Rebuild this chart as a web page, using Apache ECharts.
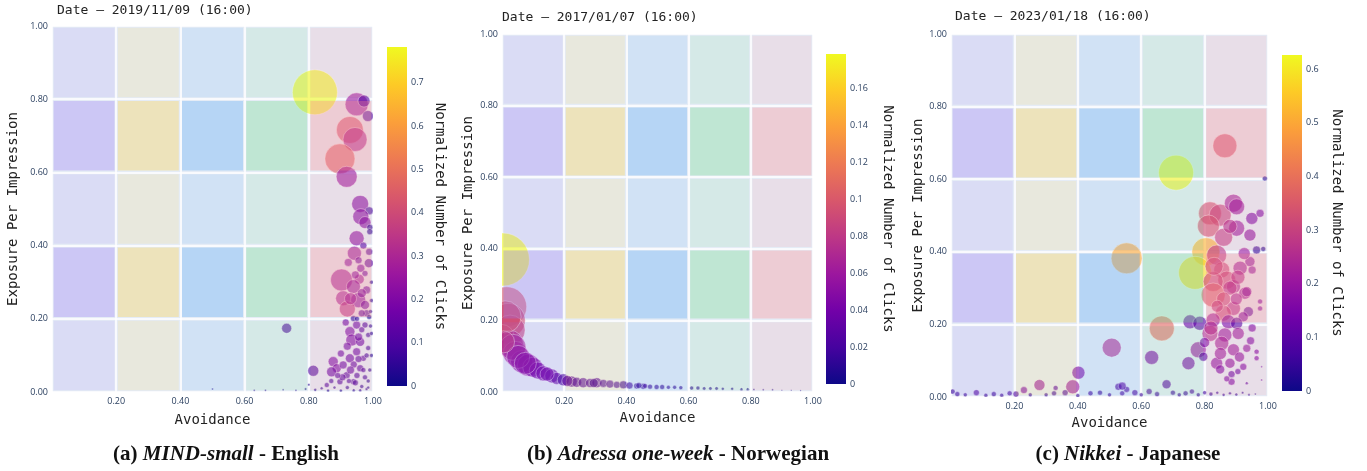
<!DOCTYPE html>
<html>
<head>
<meta charset="utf-8">
<script src="https://cdn.jsdelivr.net/npm/echarts@6.0.0/dist/echarts.min.js"></script>
<style>
html,body{margin:0;padding:0;background:#fff;}
#chart{width:1367px;height:471px;}
</style>
</head>
<body>
<div id="chart"></div>
<script>
// ---------------- DATA ----------------
const axisTicks = [0, 0.2, 0.4, 0.6, 0.8, 1.0];
const xAxisTitle = 'Avoidance';
const yAxisTitle = 'Exposure Per Impression';
const colorbarTitle = 'Normalized Number of Clicks';

// Panel (a) MIND-small
const aTitle = 'Date – 2019/11/09 (16:00)';
const aCaption = ['(a) ', 'MIND-small', ' - English'];
const aX = [0.819,0.949,0.972,0.984,0.928,0.944,0.897,0.918,0.960,0.988,0.962,0.975,0.990,0.949,0.990,0.942,0.988,0.923,0.962,0.987,0.975,0.902,0.957,0.939,0.980,0.907,0.954,0.920,0.975,0.980,0.988,0.939,0.731,0.814,0.928,0.934,0.960,0.876,0.887,0.871,0.907,0.928,0.949,0.918,0.897,0.856,0.939,0.960,0.970,0.985,0.975,0.949,0.965,0.945,0.930,0.970,0.955,0.995,0.995,0.995,0.995,0.950,0.975,0.990,0.965,0.920,0.880,0.840,0.985,0.940,0.900,0.920,0.965,0.915,0.500,0.630,0.665,0.720,0.760,0.790,0.800,0.820,0.860,0.900,0.940,0.980,
  0.905,0.930,0.955,0.945,0.925,0.970,0.980,0.985,0.870,0.890,0.955,0.965,0.950,0.992,0.992,0.960,0.985];
const aY = [0.819,0.786,0.795,0.754,0.716,0.690,0.637,0.588,0.514,0.495,0.479,0.463,0.450,0.420,0.438,0.379,0.383,0.354,0.338,0.352,0.324,0.306,0.308,0.288,0.279,0.256,0.251,0.227,0.238,0.215,0.205,0.201,0.174,0.058,0.165,0.142,0.137,0.083,0.065,0.055,0.074,0.092,0.110,0.046,0.028,0.019,0.028,0.065,0.092,0.156,0.183,0.183,0.270,0.320,0.255,0.400,0.360,0.300,0.250,0.160,0.100,0.045,0.040,0.060,0.015,0.012,0.012,0.010,0.120,0.075,0.105,0.125,0.170,0.190,0.008,0.005,0.005,0.006,0.005,0.008,0.020,0.006,0.004,0.004,0.005,0.008,
  0.040,0.060,0.090,0.025,0.030,0.060,0.100,0.030,0.030,0.045,0.150,0.215,0.200,0.180,0.220,0.005,0.012];
const aClicks = [0.78,0.25,0.12,0.10,0.42,0.30,0.45,0.25,0.20,0.08,0.20,0.20,0.05,0.22,0.05,0.22,0.10,0.20,0.18,0.12,0.15,0.27,0.25,0.22,0.15,0.27,0.20,0.32,0.15,0.10,0.03,0.05,0.10,0.10,0.18,0.18,0.15,0.18,0.18,0.15,0.15,0.15,0.15,0.12,0.10,0.10,0.10,0.12,0.12,0.08,0.10,0.15,0.18,0.20,0.25,0.12,0.15,0.05,0.05,0.05,0.04,0.10,0.08,0.05,0.06,0.06,0.06,0.05,0.08,0.14,0.15,0.16,0.12,0.15,0.02,0.02,0.02,0.02,0.02,0.02,0.03,0.03,0.03,0.03,0.04,0.05,
  0.12,0.14,0.12,0.10,0.10,0.10,0.08,0.05,0.08,0.12,0.15,0.12,0.05,0.05,0.05,0.05,0.04];
const aSize = [45,23,12,11,27,24,30,21,17,8,16,12,6,15,6,14,7,8,8,9,6,22,10,14,8,15,15,16,9,7,5,6,10,11,10,12,9,10,9,10,8,9,8,7,6,5,6,7,6,5,6,8,9,8,12,7,7,4,4,4,4,6,5,4,4,4,3,3,5,7,7,8,6,7,2,2,2,2,2,2.5,2.5,3,3,3,3,3,
  7,8,7,6,5,5,5,4,5,6,8,7,5,4,4,3,3];
const aClicksMax = 0.7825;
const aColorbarStep = 0.1;

// Panel (b) Adressa one-week
const bTitle = 'Date – 2017/01/07 (16:00)';
const bCaption = ['(b) ', 'Adressa one-week', ' - Norwegian'];
const bX = [0.003,0.015,0.020,0.026,0.000,0.026,0.042,0.063,0.085,0.099,0.115,0.133,0.160,0.176,0.197,0.224,0.240,0.261,0.283,0.305,0.326,0.347,0.369,0.390,0.410,0.433,0.454,0.476,0.497,0.515,0.535,0.555,0.575,0.610,0.630,0.650,0.670,0.690,0.710,0.740,0.770,0.790,0.810,0.840,0.870,0.900,0.930,0.960,0.010,0.035,0.052,0.075,0.145,0.210,0.295,0.440,0.460,0.005];
const bY = [0.370,0.238,0.200,0.173,0.155,0.136,0.108,0.085,0.075,0.069,0.060,0.052,0.045,0.038,0.034,0.029,0.027,0.026,0.025,0.026,0.024,0.022,0.020,0.020,0.018,0.017,0.016,0.015,0.014,0.014,0.013,0.013,0.012,0.011,0.011,0.010,0.010,0.010,0.009,0.009,0.008,0.008,0.007,0.006,0.006,0.005,0.005,0.004,0.210,0.125,0.098,0.080,0.050,0.031,0.025,0.018,0.017,0.140];
const bClicks = [0.178,0.100,0.090,0.085,0.090,0.070,0.060,0.050,0.050,0.045,0.040,0.040,0.035,0.030,0.020,0.025,0.025,0.025,0.025,0.025,0.022,0.022,0.020,0.015,0.018,0.016,0.015,0.014,0.013,0.012,0.012,0.011,0.011,0.010,0.010,0.009,0.009,0.008,0.008,0.007,0.006,0.004,0.004,0.004,0.003,0.003,0.002,0.002,0.095,0.065,0.055,0.050,0.040,0.030,0.022,0.015,0.020,0.080];
const bSize = [53,40,34,30,24,26,24,22,22,20,17,15,14,12,12,11,10,10,9,10,8,8,7,8,7,6,6,5,5,5,4,4,4,4,4,3.5,3.5,3.5,3,3,3,3,2,2,2,1.5,1.5,1.5,32,26,23,22,14,11,9,6,5,22];
const bClicksMax = 0.1784;
const bColorbarStep = 0.02;

// Panel (c) Nikkei
const cTitle = 'Date – 2023/01/18 (16:00)';
const cCaption = ['(c) ', 'Nikkei', ' - Japanese'];
const cX = [0.864,0.710,0.990,0.817,0.849,0.891,0.901,0.812,0.949,0.975,0.901,0.943,0.554,0.804,0.770,0.838,0.964,0.985,0.943,0.912,0.854,0.870,0.827,0.891,0.927,0.827,0.880,0.933,0.975,0.975,0.938,0.922,0.891,0.859,0.754,0.785,0.827,0.875,0.901,0.665,0.817,0.864,0.906,0.507,0.780,0.854,0.891,0.933,0.964,0.633,0.749,0.796,0.838,0.880,0.922,0.964,0.849,0.885,0.885,0.980,0.980,0.933,0.402,0.384,0.279,0.230,0.680,0.528,0.554,0.860,0.880,0.830,0.905,0.925,0.950,0.860,0.840,0.900,0.820,0.850,0.910,0.800,0.950,0.945,0.870,0.905,0.005,0.020,0.045,0.080,0.110,0.135,0.160,0.185,0.205,0.250,0.300,0.325,0.360,0.400,0.440,0.470,0.500,0.540,0.580,0.600,0.625,0.650,0.700,0.720,0.740,0.760,0.780,0.800,0.820,0.840,0.860,0.880,0.900,0.920,0.940,0.960,0.330,0.540];
const cY = [0.692,0.618,0.602,0.506,0.501,0.534,0.524,0.471,0.492,0.506,0.465,0.446,0.382,0.400,0.342,0.391,0.405,0.408,0.373,0.355,0.350,0.322,0.318,0.304,0.286,0.281,0.300,0.290,0.263,0.244,0.235,0.221,0.244,0.231,0.207,0.203,0.212,0.207,0.203,0.189,0.175,0.171,0.175,0.136,0.130,0.148,0.130,0.134,0.125,0.109,0.093,0.111,0.093,0.093,0.083,0.107,0.076,0.063,0.042,0.083,0.047,0.038,0.067,0.028,0.033,0.019,0.035,0.028,0.021,0.440,0.470,0.360,0.330,0.395,0.350,0.270,0.250,0.270,0.190,0.120,0.110,0.150,0.190,0.155,0.050,0.070,0.015,0.008,0.006,0.012,0.005,0.008,0.005,0.010,0.008,0.006,0.006,0.010,0.012,0.004,0.010,0.012,0.006,0.010,0.012,0.006,0.015,0.008,0.012,0.006,0.010,0.015,0.006,0.012,0.008,0.012,0.006,0.010,0.007,0.012,0.006,0.008,0.025,0.030];
const cClicks = [0.33,0.62,0.03,0.33,0.30,0.22,0.20,0.33,0.15,0.15,0.20,0.18,0.50,0.52,0.58,0.27,0.05,0.03,0.18,0.20,0.30,0.30,0.30,0.22,0.20,0.35,0.25,0.18,0.15,0.15,0.10,0.15,0.25,0.30,0.12,0.10,0.20,0.15,0.10,0.38,0.25,0.20,0.20,0.25,0.20,0.22,0.20,0.18,0.15,0.15,0.15,0.10,0.18,0.18,0.15,0.15,0.15,0.12,0.15,0.10,0.10,0.10,0.15,0.20,0.20,0.15,0.10,0.08,0.08,0.28,0.25,0.30,0.25,0.20,0.18,0.30,0.28,0.22,0.25,0.20,0.18,0.15,0.15,0.15,0.15,0.12,0.05,0.05,0.05,0.08,0.05,0.05,0.05,0.06,0.08,0.05,0.05,0.06,0.08,0.04,0.06,0.05,0.05,0.07,0.08,0.05,0.08,0.06,0.06,0.05,0.06,0.08,0.05,0.06,0.05,0.05,0.05,0.05,0.04,0.04,0.04,0.03,0.10,0.10];
const cSize = [24,35,5,23,22,18,16,22,12,8,16,12,31,28,33,20,8,5,10,14,16,18,20,14,12,24,14,10,5,5,10,10,14,16,14,14,14,14,12,25,16,14,12,19,16,14,12,8,5,14,13,9,12,10,7,5,9,7,7,2,2,3,13,14,11,7,9,7,6,18,14,18,14,12,8,14,12,12,14,12,10,10,8,8,6,6,5,5,4,6,4,5,4,5,6,4,4,5,6,4,5,5,4,5,6,4,6,5,5,4,5,5,4,4,4,3,3,3,3,2.5,2.5,2,5,8];
const cClicksMax = 0.626;
const cColorbarStep = 0.1;

// ---------------- STYLE / LAYOUT ----------------
const plasma = ['#0d0887','#46039f','#7201a8','#9c179e','#bd3786','#d8576b','#ed7953','#fb9f3a','#fdca26','#f0f921'];
const cellRGB = ['149,116,243','255,206,56','76,163,243','106,216,133','255,133,136'];
const cellAlphaLight = 0.13, cellAlphaDark = 0.31, cellInset = 0.005;
const bubbleOpacity = 0.6;
const tickColor = '#2a3f5f';
const textColor = '#222';
const mono = '"DejaVu Sans Mono", monospace';
const sans = '"Open Sans", sans-serif';
const serif = '"Liberation Serif", serif';

const layouts = [
  {grid:{left:52, top:26, width:321, height:366}, cb:{left:387, top:47, width:20, height:339},
   titlePos:[57,11], captionPos:[226,455], yGap:32, xGap:21, cbGap:26},
  {grid:{left:502, top:34, width:311, height:358}, cb:{left:826, top:54, width:20, height:330},
   titlePos:[502,18], captionPos:[678,455], yGap:27, xGap:18, cbGap:35},
  {grid:{left:951, top:34, width:317, height:363}, cb:{left:1282, top:55, width:20, height:336},
   titlePos:[955,17], captionPos:[1128,455], yGap:26, xGap:14, cbGap:28}
];

const panels = [
  {x:aX, y:aY, c:aClicks, s:aSize, max:aClicksMax, step:aColorbarStep, title:aTitle, caption:aCaption},
  {x:bX, y:bY, c:bClicks, s:bSize, max:bClicksMax, step:bColorbarStep, title:bTitle, caption:bCaption},
  {x:cX, y:cY, c:cClicks, s:cSize, max:cClicksMax, step:cColorbarStep, title:cTitle, caption:cCaption}
];

// cells built from the tick edges
const cellData = [];
for (let i = 0; i < axisTicks.length - 1; i++) {
  for (let j = 0; j < axisTicks.length - 1; j++) {
    cellData.push([axisTicks[i], axisTicks[i+1], axisTicks[j], axisTicks[j+1], i, j]);
  }
}

function fmtCb(v){ return String(parseFloat(v.toFixed(3))); }

const grid = [], xAxis = [], yAxis = [], series = [], visualMap = [], graphic = [];
panels.forEach((p, k) => {
  const L = layouts[k];
  grid.push(Object.assign({show:true, backgroundColor:'#E5ECF6', borderWidth:0, containLabel:false}, L.grid));
  xAxis.push({
    type:'value', gridIndex:k, min:0, max:1, interval:0.2,
    axisLine:{show:false}, axisTick:{show:false},
    splitLine:{show:true, lineStyle:{color:'#ffffff', width:1.5}},
    axisLabel:{showMinLabel:false, color:tickColor, fontFamily:sans, fontSize:9, margin:5, formatter:v=>v.toFixed(2)},
    name:xAxisTitle, nameLocation:'middle', nameGap:L.xGap,
    nameTextStyle:{fontFamily:mono, fontSize:14, color:textColor}
  });
  yAxis.push({
    type:'value', gridIndex:k, min:0, max:1, interval:0.2,
    axisLine:{show:false}, axisTick:{show:false},
    splitLine:{show:true, lineStyle:{color:'#ffffff', width:1.5}},
    axisLabel:{color:tickColor, fontFamily:sans, fontSize:9, margin:4, formatter:v=>v.toFixed(2)},
    name:yAxisTitle, nameLocation:'middle', nameGap:L.yGap,
    nameTextStyle:{fontFamily:mono, fontSize:14, color:textColor}
  });
  // bubbles (custom series so that they are clipped at the plot area like the original)
  series.push({
    type:'custom', xAxisIndex:k, yAxisIndex:k, z:2, clip:true, silent:true,
    encode:{x:0, y:1},
    data:p.x.map((v,i)=>[v, p.y[i], p.c[i], p.s[i]]),
    renderItem:(params, api) => {
      const pt = api.coord([api.value(0), api.value(1)]);
      return {type:'circle', shape:{cx:pt[0], cy:pt[1], r:api.value(3)/2},
              style:{fill:api.visual('color'), opacity:bubbleOpacity,
                     stroke:'rgba(255,255,255,0.85)', lineWidth:0.8}};
    }
  });
  visualMap.push({
    type:'continuous', show:false, seriesIndex:series.length-1, dimension:2,
    min:0, max:p.max, inRange:{color:plasma}
  });
  // translucent quadrant cells drawn over the bubbles
  series.push({
    type:'custom', xAxisIndex:k, yAxisIndex:k, z:3, silent:true, clip:true,
    data:cellData,
    renderItem:(params, api) => {
      const x0 = api.value(0) + cellInset, x1 = api.value(1) - cellInset;
      const y0 = api.value(2) + cellInset, y1 = api.value(3) - cellInset;
      const p0 = api.coord([x0, y1]), p1 = api.coord([x1, y0]);
      const col = api.value(4), row = api.value(5);
      const a = row % 2 === 1 ? cellAlphaDark : cellAlphaLight;
      return {type:'rect', shape:{x:p0[0], y:p0[1], width:p1[0]-p0[0], height:p1[1]-p0[1]},
              style:{fill:'rgba(' + cellRGB[col] + ',' + a + ')'}};
    }
  });
  graphic.push({type:'text', x:L.titlePos[0], y:L.titlePos[1],
    style:{text:p.title, font:'13px ' + mono, fill:textColor, align:'left', verticalAlign:'middle'}});
  graphic.push({type:'text', x:L.captionPos[0], y:L.captionPos[1],
    style:{text:'{b|' + p.caption[0] + '}{bi|' + p.caption[1] + '}{b|' + p.caption[2] + '}',
      align:'center', verticalAlign:'middle',
      rich:{b:{fontFamily:serif, fontWeight:'bold', fontSize:21, fill:'#111'},
            bi:{fontFamily:serif, fontWeight:'bold', fontStyle:'italic', fontSize:21, fill:'#111'}}}});
});

// colorbars
panels.forEach((p, k) => {
  const L = layouts[k];
  const gi = 3 + k;
  grid.push(Object.assign({show:false, containLabel:false}, L.cb));
  xAxis.push({type:'category', gridIndex:gi, data:['clicks'], show:false, boundaryGap:true});
  yAxis.push({
    type:'value', gridIndex:gi, position:'right', min:0, max:p.max, interval:p.step,
    axisLine:{show:false}, axisTick:{show:false}, splitLine:{show:false},
    axisLabel:{showMaxLabel:false, color:tickColor, fontFamily:sans, fontSize:9, margin:4, formatter:fmtCb},
    name:colorbarTitle, nameLocation:'middle', nameRotate:-90, nameGap:L.cbGap,
    nameTextStyle:{fontFamily:mono, fontSize:14, color:textColor}
  });
  const stops = plasma.map((c, i) => ({offset:1 - i/(plasma.length-1), color:c})).reverse();
  series.push({
    type:'bar', xAxisIndex:gi, yAxisIndex:gi, barWidth:'100%', silent:true,
    data:[p.max],
    itemStyle:{color:new echarts.graphic.LinearGradient(0,0,0,1, stops)}
  });
});

const chart = echarts.init(document.getElementById('chart'), null, {renderer:'canvas'});
chart.setOption({animation:false, backgroundColor:'#ffffff', grid, xAxis, yAxis, series, visualMap, graphic});
</script>
</body>
</html>
